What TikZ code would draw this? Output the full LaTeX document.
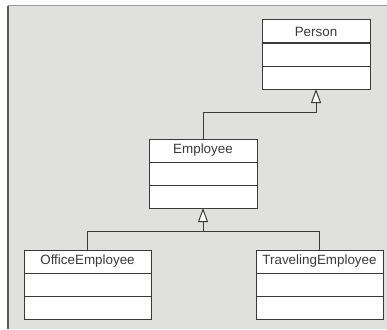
\documentclass[tikz,border=0pt]{standalone}
\usepackage{fontspec}
\setmainfont{Liberation Sans}
\usetikzlibrary{positioning,arrows.meta}
\definecolor{panel}{HTML}{E0E0DF}
\definecolor{rim}{HTML}{5A5A5A}
\definecolor{ink}{HTML}{3A3A3A}
\tikzset{
  classpart/.style={draw=ink, line width=1pt, fill=white, minimum width=108pt,
    minimum height=23pt, inner sep=0pt, outer sep=0pt, text=ink,
    font=\fontsize{13.4}{14}\selectfont},
  inherit/.style={draw=ink, line width=1pt, -{Triangle[open, length=14pt, width=10pt, fill=white]}},
  link/.style={draw=ink, line width=1pt}
}
\begin{document}
\begin{tikzpicture}[x=1pt,y=-1pt]
  \useasboundingbox (0,0) rectangle (387,329);
  % panel
  \fill[panel] (8,6) rectangle (387,329);
  \draw[rim!60, line width=1pt] (8,6) -- (387,6);
  \draw[rim, line width=1.5pt] (8,6) -- (8,329);

  % classes
  \node[classpart] (person) at (316,31.5) {Person};
  \node[classpart, below=0pt of person] (persona) {};
  \node[classpart, below=0pt of persona] (personb) {};

  \node[classpart] (employee) at (203,150.5) {Employee};
  \node[classpart, below=0pt of employee] (employeea) {};
  \node[classpart, below=0pt of employeea] (employeeb) {};

  \node[classpart, minimum width=127pt] (office) at (87.5,261.5) {OfficeEmployee};
  \node[classpart, minimum width=127pt, below=0pt of office] (officea) {};
  \node[classpart, minimum width=127pt, below=0pt of officea] (officeb) {};

  \node[classpart, minimum width=127pt] (traveling) at (319.5,261.5) {TravelingEmployee};
  \node[classpart, minimum width=127pt, below=0pt of traveling] (travelinga) {};
  \node[classpart, minimum width=127pt, below=0pt of travelinga] (travelingb) {};

  % generalisation
  \coordinate (jone) at (316,112);
  \coordinate (jtwo) at (203,231);
  \draw[inherit] (employee.north) |- (jone) -- (personb.south);
  \draw[inherit] (office.north) |- (jtwo) -- (employeeb.south);
  \draw[link] (traveling.north) |- (jtwo);
\end{tikzpicture}
\end{document}
